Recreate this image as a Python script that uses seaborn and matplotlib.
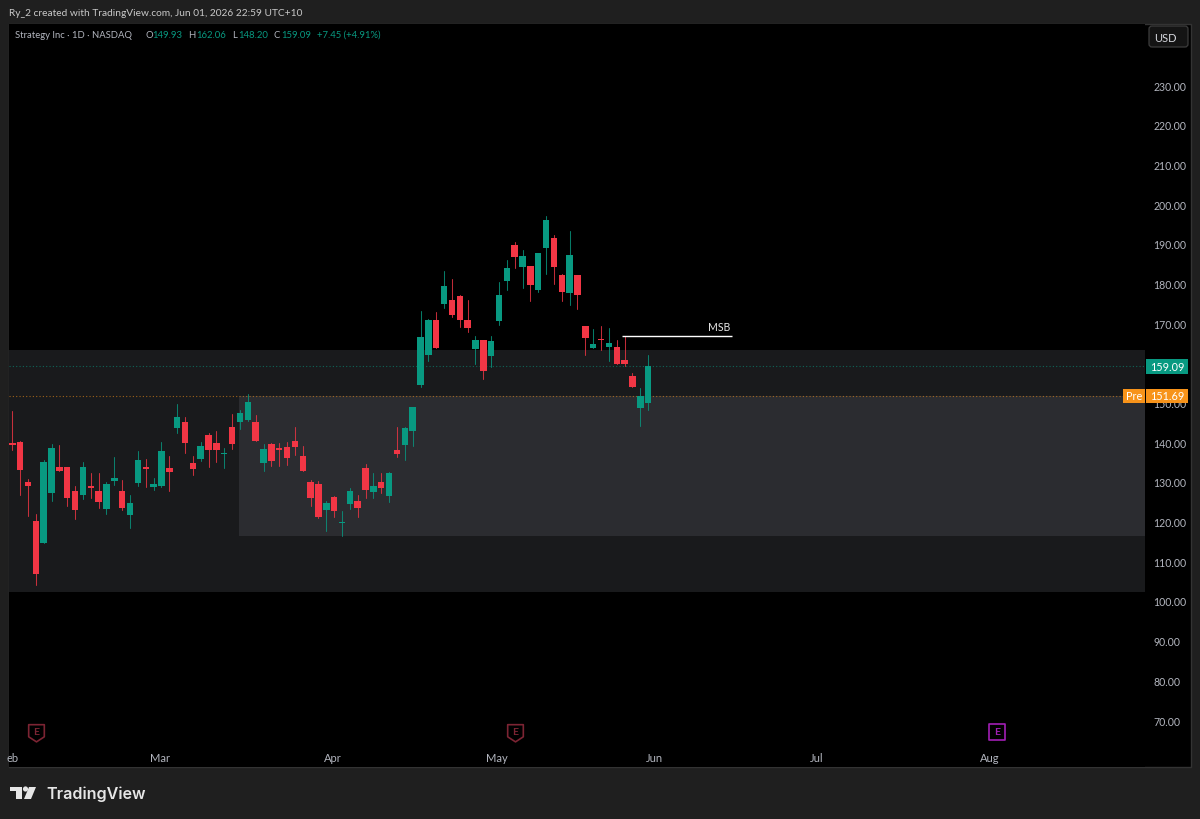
import matplotlib
matplotlib.use("Agg")
import matplotlib.pyplot as plt
import numpy as np
import pandas as pd
import seaborn as sns
from matplotlib.patches import Rectangle, Polygon, Circle, FancyBboxPatch
from matplotlib.path import Path
from matplotlib.transforms import Affine2D, blended_transform_factory

# Daily OHLC for the session window, oldest first
opens = [139.72,140.14,129.98,120.24,114.69,127.12,133.67,133.67,127.63,126.70,
         128.97,127.63,123.26,130.23,127.80,121.66,129.73,133.67,128.63,128.89,
         133.42,143.58,145.01,134.85,135.77,141.82,139.81,137.03,143.75,145.01,
         145.68,145.10,134.77,139.55,138.63,138.80,140.31,136.45,129.98,129.56,
         122.84,126.12,119.65,124.35,125.19,133.59,127.46,129.98,126.45,137.96,
         139.38,142.83,154.33,162.06,170.71,174.74,175.83,176.92,170.79,163.49,
         165.67,161.64,170.63,180.62,189.69,184.23,184.40,178.35,188.93,191.37,
         182.22,177.60,182.22,169.20,163.74,166.01,163.99,163.99,160.71,156.68,
         148.62,149.93]
closes = [139.38,133.00,128.89,106.72,134.93,138.46,132.75,125.95,122.84,133.84,
          128.38,124.94,129.48,131.07,123.43,124.60,135.52,133.17,129.48,137.71,
          132.58,146.36,139.72,133.17,139.05,138.13,138.13,137.29,139.47,147.45,
          150.22,140.31,138.21,135.27,137.96,135.94,138.80,132.75,125.86,121.08,
          124.69,122.59,119.90,127.71,123.51,128.05,128.97,128.38,132.33,137.03,
          143.58,148.88,166.51,170.88,163.74,179.28,172.14,170.88,168.86,165.75,
          157.94,165.50,177.09,183.81,186.58,186.92,179.70,187.59,195.90,184.23,
          177.76,187.09,177.09,166.34,164.66,165.67,164.91,159.62,159.62,153.91,
          151.56,159.09]
highs = [147.78,140.20,130.73,121.92,135.52,139.55,139.30,133.67,128.89,135.02,
         132.16,132.33,129.89,136.28,130.48,126.70,137.71,135.77,131.07,140.06,
         136.45,149.55,146.27,136.45,140.06,142.32,142.74,138.63,147.11,148.12,
         152.15,146.86,139.64,139.72,139.72,139.97,143.75,139.13,130.48,130.31,
         125.11,126.37,122.67,128.38,126.70,134.60,132.33,132.16,132.58,143.84,
         143.75,148.88,172.98,170.96,172.81,183.14,181.04,177.18,175.83,166.76,
         165.67,166.85,180.28,185.91,190.45,188.35,184.48,187.67,196.91,192.13,
         182.38,193.13,182.22,169.20,168.53,169.20,168.78,165.75,166.85,157.52,
         153.58,162.06]
lows = [138.04,126.79,121.33,104.11,114.69,125.11,132.75,123.93,120.74,125.70,
        125.86,123.51,121.83,129.31,123.01,118.39,128.89,128.80,127.88,128.80,
        127.80,142.24,137.29,131.74,135.27,133.84,135.10,133.42,138.38,143.33,
        145.26,140.31,132.83,133.93,134.01,134.26,136.78,132.75,123.93,120.83,
        117.63,121.24,116.46,123.09,121.16,126.03,125.86,127.29,124.94,136.19,
        135.44,139.13,153.83,160.46,163.74,173.90,171.63,169.11,167.69,159.71,
        155.93,159.04,169.45,178.35,183.81,178.86,175.58,177.76,182.38,179.95,
        175.58,174.57,173.65,162.06,163.65,163.32,160.38,159.62,159.29,153.91,
        144.09,148.20]

price_ticks = [70, 80, 90, 100, 110, 120, 130, 140, 150, 160, 170, 180, 190, 200, 210, 220, 230]
month_labels = ["eb", "Mar", "Apr", "May", "Jun", "Jul", "Aug"]
month_positions = [0.05, 18.8, 40.85, 61.75, 81.75, 102.5, 124.5]

last_close = 159.09
premarket = 151.69
outer_zone = (102.26, 163.23)
inner_zone = (116.37, 151.69)
inner_zone_start = 28.87
msb_level = 166.88
msb_span = (77.7, 91.7)
earnings_past = [3, 64]
earnings_next = [125.4]

UP = "#089981"
DOWN = "#f23645"
CHROME = "#1f1f1f"
AXIS_TEXT = "#b2b5be"
ORANGE = "#f7931a"

W, H = 1200, 820
sns.set_theme(style="dark")
plt.rcParams["font.family"] = ["Lato", "DejaVu Sans"]

fig = plt.figure(figsize=(W / 100, H / 100), dpi=100, facecolor=CHROME)
# Pixel coordinates with the origin in the top-left corner, used for the window chrome
px = Affine2D().scale(1 / W, -1 / H).translate(0, 1) + fig.transFigure

fig.add_artist(Rectangle((9, 25), 1182, 743, transform=px, facecolor="black",
                         edgecolor="#333333", linewidth=1, zorder=-1))

ax = fig.add_axes([9 / W, 1 - 768 / H, (1145 - 9) / W, (768 - 25) / H], facecolor="black")

candles = pd.DataFrame({"idx": np.arange(len(opens)), "open": opens, "high": highs,
                        "low": lows, "close": closes})
candles["dir"] = np.where(candles["close"] >= candles["open"], "up", "down")
candles["top"] = candles[["open", "close"]].max(axis=1)
candles["bottom"] = candles[["open", "close"]].min(axis=1)
candles["height"] = candles["top"] - candles["bottom"]

# Zones behind the candles
ax.axhspan(*outer_zone, color="#191a1c", lw=0, zorder=0)
ax.add_patch(Rectangle((inner_zone_start, inner_zone[0]), 200, inner_zone[1] - inner_zone[0],
                       facecolor="#2b2c30", edgecolor="none", zorder=0.5))

# Wicks
wicks = candles.melt(id_vars=["idx", "dir"], value_vars=["low", "high"], value_name="price")
sns.lineplot(data=wicks, x="idx", y="price", units="idx", estimator=None, hue="dir",
             palette={"up": UP, "down": DOWN}, linewidth=0.75, alpha=0.8, legend=False,
             sort=False, ax=ax, zorder=2)

# Candle bodies, one call per direction so each gets its own base levels
for direction, colour in (("up", UP), ("down", DOWN)):
    subset = candles[candles["dir"] == direction].sort_values("idx")
    sns.barplot(data=subset, x="idx", y="height", native_scale=True, width=0.82,
                color=colour, saturation=1, errorbar=None, bottom=subset["bottom"].values,
                linewidth=0, ax=ax, zorder=3)

# Price lines
ax.axhline(last_close, color=UP, lw=0.8, ls=(0, (1, 2)), alpha=0.6, zorder=1.5)
ax.axhline(premarket, color=ORANGE, lw=0.8, ls=(0, (1, 2)), alpha=0.6, zorder=1.5)

# Market structure break marker
ax.plot(msb_span, [msb_level, msb_level], color="white", lw=1.0, zorder=4, solid_capstyle="butt")
ax.text(90.0, msb_level + 0.9, "MSB", color="#e6e6e6", fontsize=7.6, ha="center", va="bottom",
        zorder=4)

ax.set_xlim((9 - 12.3) / 7.85, (1145 - 12.3) / 7.85)
ax.set_ylim(230 - (768 - 86) / 3.969, 230 + (86 - 25) / 3.969)
ax.set_xlabel("")
ax.set_ylabel("")
ax.grid(False)
for spine in ax.spines.values():
    spine.set_visible(False)

ax.yaxis.tick_right()
ax.set_yticks(price_ticks)
ax.set_yticklabels([f"{v:.2f}" for v in price_ticks])
ax.tick_params(axis="y", length=0, pad=5.8, labelsize=7.6, labelcolor=AXIS_TEXT)
ax.set_xticks(month_positions)
ax.set_xticklabels(month_labels)
ax.tick_params(axis="x", length=0, pad=-10.8, labelsize=8, labelcolor=AXIS_TEXT)

# Earnings flags along the time axis
shield = Path([(-1, 1), (1, 1), (1, -0.55), (0, -1.2), (-1, -0.55), (-1, 1)], closed=True)
badge = Path([(-1, 1), (1, 1), (1, -1), (-1, -1), (-1, 1)], closed=True)
flag_y = blended_transform_factory(ax.transData, ax.transAxes)
for positions, marker, colour, size in ((earnings_past, shield, "#7c2433", 13.5),
                                        (earnings_next, badge, "#a11fb5", 12)):
    for pos in positions:
        ax.plot([pos], [0.0475], marker=marker, transform=flag_y, markersize=size,
                markerfacecolor="black", markeredgecolor=colour, markeredgewidth=1.2,
                linestyle="none", clip_on=False, zorder=4)
        ax.text(pos, 0.0475, "E", transform=flag_y, color=colour, fontsize=7.5, ha="center",
                va="center", zorder=5, fontweight="bold")

# Last price and pre-market tags on the price scale
tag_y = blended_transform_factory(fig.transFigure, ax.transData)


def price_tag(x0, x1, value, text, colour):
    fig.add_artist(Rectangle((x0 / W, value - 1.8), (x1 - x0) / W, 3.6, transform=tag_y,
                             facecolor=colour, edgecolor="none", zorder=5))
    fig.text((x0 + x1) / 2 / W, value, text, transform=tag_y, color="white", fontsize=7.8,
             ha="center", va="center", zorder=6)


price_tag(1146, 1188, last_close, f"{last_close:.2f}", UP)
price_tag(1146, 1188, premarket, f"{premarket:.2f}", ORANGE)
price_tag(1123, 1145, premarket, "Pre", ORANGE)

# Header and legend line
fig.text(9, 13, "Ry_2 created with TradingView.com, Jun 01, 2026 22:59 UTC+10", transform=px,
         color="#c9c9c9", fontsize=7.3, va="center")
legend_items = [(15, "Strategy Inc · 1D · NASDAQ", AXIS_TEXT), (145, "O", AXIS_TEXT),
                (152, "149.93", UP), (188, "H", AXIS_TEXT), (196, "162.06", UP),
                (232, "L", AXIS_TEXT), (238, "148.20", UP), (274, "C", AXIS_TEXT),
                (281, "159.09", UP), (317, "+7.45 (+4.91%)", UP)]
for x, label, colour in legend_items:
    fig.text(x, 35, label, transform=px, color=colour, fontsize=6.8, va="center")

# Currency button
fig.add_artist(FancyBboxPatch((1151, 29), 35, 17, boxstyle="round,pad=2,rounding_size=3",
                              transform=px, facecolor="#141414", edgecolor="#3c3c3c",
                              linewidth=0.9, zorder=5))
fig.text(1165, 38, "USD", transform=px, color="#d6d8de", fontsize=8, ha="center",
         va="center", zorder=6)

# Brand mark and wordmark
logo = "#e6e6e6"
fig.add_artist(Polygon([(10, 788), (22, 788), (22, 800), (15.5, 800), (15.5, 792), (10, 792)],
                       transform=px, facecolor=logo, edgecolor="none"))
fig.add_artist(Circle((25.5, 790), 2.6, transform=px, facecolor=logo, edgecolor="none"))
fig.add_artist(Polygon([(29, 788), (36, 788), (31, 800), (24, 800)], transform=px,
                       facecolor=logo, edgecolor="none"))
fig.text(46, 794, "TradingView", transform=px, color=logo, fontsize=11.6, fontweight="semibold",
         family=["Inter", "DejaVu Sans"], va="center")

fig.savefig("out.png", dpi=100, facecolor=CHROME)
